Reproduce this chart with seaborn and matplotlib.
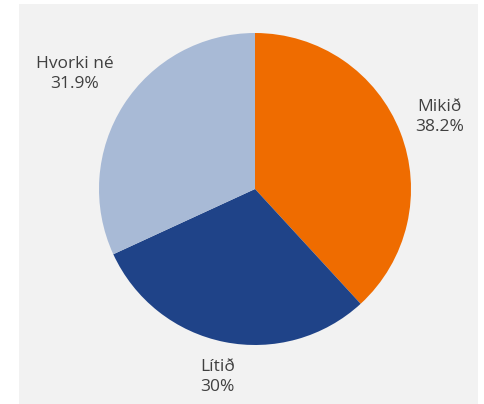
import numpy as np
import matplotlib
matplotlib.use("Agg")
import matplotlib.pyplot as plt
import seaborn as sns
from matplotlib.patches import Rectangle

categories = ["Mikið", "Lítið", "Hvorki né"]
shares = [38.2, 30.0, 31.9]
share_labels = ["38.2%", "30%", "31.9%"]
colors = ["#ef6c00", "#1f4388", "#a8bad6"]

sns.set_theme(style="white")
plt.rcParams['font.family'] = ['Open Sans', 'DejaVu Sans']

W, H = 485, 404
fig = plt.figure(figsize=(W / 100, H / 100), dpi=100)
fig.patch.set_facecolor("white")
# grey panel behind the chart
fig.patches.append(Rectangle((19 / W, 0), 459 / W, 400 / H, transform=fig.transFigure,
                             facecolor="#f2f2f2", edgecolor="none", zorder=-10))

r = 156
cx, cy = 255, H - 189
ax = fig.add_axes([(cx - r) / W, (cy - r) / H, 2 * r / W, 2 * r / H])
ax.set_zorder(5)
ax.set_facecolor("none")

labels = [f"{c}\n{s}" for c, s in zip(categories, share_labels)]
wedges, texts = ax.pie(shares, labels=labels, colors=sns.color_palette(colors),
                       startangle=90, counterclock=False, labeldistance=1.28,
                       wedgeprops=dict(linewidth=0),
                       textprops=dict(fontsize=12.5, color="#404040", linespacing=1.35))
# label distance from centre per wedge (fraction of radius)
label_dist = [1.27, 1.23, 1.37]
for w, t, d in zip(wedges, texts, label_dist):
    ang = np.deg2rad((w.theta1 + w.theta2) / 2)
    t.set_position((d * np.cos(ang), d * np.sin(ang)))
    t.set_ha("center")
    t.set_va("center")
    t.set_multialignment("center")
ax.set_xlim(-1, 1)
ax.set_ylim(-1, 1)
ax.axis("off")

fig.savefig("out.png", dpi=100)
